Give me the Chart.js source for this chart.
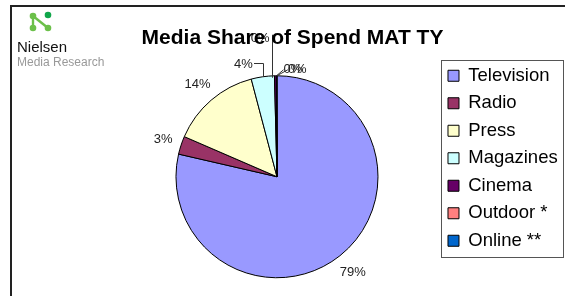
<!DOCTYPE html>
<html>
<head>
<meta charset="utf-8">
<script src="https://cdn.jsdelivr.net/npm/chart.js@4.4.1/dist/chart.umd.min.js"></script>
<style>
  html, body { margin: 0; padding: 0; background: #fff; overflow: hidden; }
  #wrap { position: relative; width: 565px; height: 296px; }
  #frame { position: absolute; left: 10px; top: 5px; width: 600px; height: 400px;
           border-left: 2px solid #222; border-top: 2px solid #222; }
  #c { position: absolute; left: 0; top: 0; }
  .txt { position: absolute; font-family: "Liberation Sans", Arial, sans-serif; white-space: nowrap; }
  #title { left: 0; width: 585px; text-align: center; top: 25px; font-size: 21px; font-weight: bold; color: #000; line-height: 24px; }
  #brand { left: 17px; top: 38px; font-size: 15px; color: #111; line-height: 17px; }
  #sub { left: 17px; top: 55px; font-size: 12px; color: #999; line-height: 14px; }
  #logo { position: absolute; left: 28px; top: 10px; }
</style>
</head>
<body>
<div id="wrap">
  <div id="frame"></div>
  <canvas id="c" width="565" height="296"></canvas>
  <svg id="logo" width="26" height="24" viewBox="0 0 26 24">
    <line x1="5" y1="6" x2="5" y2="18" stroke="#6cc04a" stroke-width="2.4"/>
    <line x1="5" y1="6" x2="20" y2="18" stroke="#6cc04a" stroke-width="2.4"/>
    <circle cx="5" cy="6" r="3.3" fill="#6cc04a"/>
    <circle cx="20" cy="5" r="3.3" fill="#10a64a"/>
    <circle cx="5" cy="18" r="3.3" fill="#6cc04a"/>
    <circle cx="20" cy="18" r="3.3" fill="#6cc04a"/>
  </svg>
  <div class="txt" id="brand">Nielsen</div>
  <div class="txt" id="sub">Media Research</div>
  <div class="txt" id="title">Media Share of Spend MAT TY</div>
</div>
<script>
// ---- data ----
const categories = ["Television", "Radio", "Press", "Magazines", "Cinema", "Outdoor *", "Online **"];
const shareValues = [78.6, 2.9, 14.4, 3.7, 0.3, 0.05, 0.05];
const sliceColors = ["#9999FF", "#993366", "#FFFFCC", "#CCFFFF", "#660066", "#FF8080", "#0066CC"];
// label placement style per slice
const labelModes = ["outside", "outside", "outside", "elbow", "tall", "short", "short"];
const labelShiftX = [0, 0, 0, 0, 0, 0, 4];

const FONT = '"Liberation Sans", Arial, sans-serif';

const legendFrame = {
  id: 'legendFrame',
  afterDraw(chart) {
    const lg = chart.legend;
    if (!lg || !lg.legendHitBoxes || !lg.legendHitBoxes.length) return;
    const hb = lg.legendHitBoxes;
    const left = hb[0].left - 7;
    const top = hb[0].top - 7;
    const last = hb[hb.length - 1];
    const bottom = last.top + last.height + 6;
    const right = 563;
    const ctx = chart.ctx;
    ctx.save();
    ctx.strokeStyle = '#555';
    ctx.lineWidth = 1;
    ctx.strokeRect(Math.round(left) + 0.5, Math.round(top) + 0.5, Math.round(right - left), Math.round(bottom - top));
    ctx.restore();
  }
};

const pieLabels = {
  id: 'pieLabels',
  afterDatasetsDraw(chart) {
    const ctx = chart.ctx;
    const meta = chart.getDatasetMeta(0);
    const total = shareValues.reduce((a, b) => a + b, 0);
    ctx.save();
    ctx.font = '13px ' + FONT;
    ctx.fillStyle = '#222';
    ctx.strokeStyle = '#333';
    ctx.lineWidth = 1;
    meta.data.forEach((arc, i) => {
      const p = arc.getProps(['x', 'y', 'startAngle', 'endAngle', 'outerRadius'], true);
      const mid = (p.startAngle + p.endAngle) / 2;
      const c = Math.cos(mid), s = Math.sin(mid);
      const rx = p.x + c * p.outerRadius, ry = p.y + s * p.outerRadius;
      const text = Math.round(shareValues[i] / total * 100) + '%';
      const w = ctx.measureText(text).width;
      const mode = labelModes[i];
      ctx.textBaseline = 'middle';
      if (mode === 'outside') {
        const d = 8 + (w / 2) * Math.abs(c) + 6 * Math.abs(s);
        ctx.textAlign = 'center';
        ctx.fillText(text, rx + c * d, ry + s * d);
      } else if (mode === 'elbow') {
        const ly = ry - 14;
        ctx.beginPath();
        ctx.moveTo(Math.round(rx) + 0.5, ry);
        ctx.lineTo(Math.round(rx) + 0.5, Math.round(ly) + 0.5);
        ctx.lineTo(Math.round(rx) - 9, Math.round(ly) + 0.5);
        ctx.stroke();
        ctx.textAlign = 'right';
        ctx.fillText(text, rx - 10, ly + 2);
      } else if (mode === 'tall') {
        const lx = Math.round(rx) - 2.5;
        const ly = ry - 41;
        ctx.beginPath();
        ctx.moveTo(lx, ry + 2);
        ctx.lineTo(lx, ly);
        ctx.stroke();
        ctx.textAlign = 'right';
        ctx.fillText(text, lx - 3, ly + 4);
      } else {
        const lx = rx + 7 + labelShiftX[i], ly = ry - 6;
        ctx.beginPath();
        ctx.moveTo(rx, ry);
        ctx.lineTo(lx, ly);
        ctx.stroke();
        ctx.textAlign = 'left';
        ctx.fillText(text, lx, ly);
      }
    });
    ctx.restore();
  }
};

new Chart(document.getElementById('c'), {
  type: 'pie',
  data: {
    labels: categories,
    datasets: [{
      data: shareValues,
      backgroundColor: sliceColors,
      borderColor: '#000',
      borderWidth: 1
    }]
  },
  options: {
    responsive: false,
    animation: false,
    radius: 101,
    layout: { padding: { left: 115, right: -2.7, top: 57.5, bottom: -4.5 } },
    plugins: {
      tooltip: { enabled: false },
      title: { display: false },
      legend: {
        position: 'right',
        align: 'start',
        labels: {
          font: { family: FONT, size: 18.5 },
          color: '#000',
          boxWidth: 11,
          boxHeight: 11,
          padding: 9
        }
      }
    }
  },
  plugins: [pieLabels, legendFrame]
});
</script>
</body>
</html>
